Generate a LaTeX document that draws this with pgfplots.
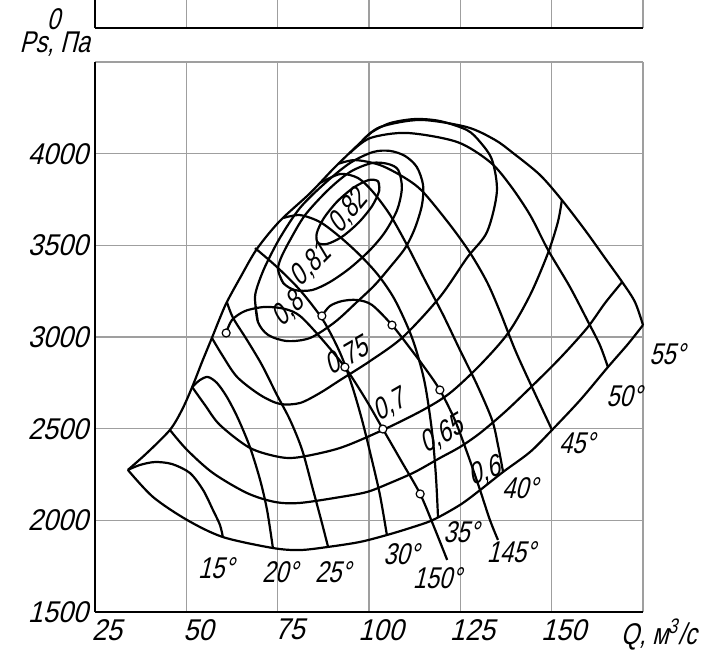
\documentclass[border=0pt]{standalone}
\usepackage{fontspec}
\setmainfont{Liberation Sans}[FakeSlant=0.25,FakeStretch=0.9]
\newfontfamily\narrowfont{Liberation Sans}[FakeSlant=0.25,FakeStretch=0.78]
\usepackage{pgfplots}
\pgfplotsset{compat=1.18}
\newcommand{\lbl}{\narrowfont\fontsize{15}{17}\selectfont}
\begin{document}
\begin{tikzpicture}[x=1pt,y=1pt]
\useasboundingbox (-47.5pt,-19pt) rectangle (308.5pt,306pt);
% top (cut) panel
\begin{axis}[at={(0pt,292pt)}, anchor=south west, width=274pt, height=14pt, scale only axis,
  xmin=25, xmax=175, ymin=0, ymax=1,
  axis lines=left, axis line style={-, line width=1.1pt, black},
  x axis line style={line width=1.4pt},
  xtick={25,50,...,175}, xticklabels={},
  ytick={0}, yticklabels={0},
  xmajorgrids, grid style={gray!75, line width=0.7pt},
  major tick length=0pt,
  /pgf/number format/assume math mode=true,
  yticklabel style={font=\lbl, xshift=-14pt, yshift=4.5pt},
]
\addplot[draw=none] coordinates {(25,0)};
\end{axis}
% main panel
\begin{axis}[at={(0pt,0pt)}, anchor=south west, width=274pt, height=275pt, scale only axis,
  xmin=25, xmax=175, ymin=1500, ymax=4500,
  axis lines=left, axis line style={-, line width=1.1pt, black},
  xtick={25,50,...,175}, xticklabels={25,50,75,100,125,150,},
  ytick={1500,2000,...,4500}, yticklabels={1500,2000,2500,3000,3500,4000,},
  grid=major, grid style={gray!75, line width=0.7pt},
  major tick length=0pt,
  /pgf/number format/assume math mode=true,
  tick label style={font=\fontsize{15}{17}\selectfont},
  xticklabel style={xshift=6pt},
  clip=false,
]
% envelope eta = 0.6
\addplot[black, line width=1.1pt, smooth] coordinates {(34.0,2275) (40.9,2127) (50.2,2002) (60.0,1909) (73.7,1849) (81.1,1838) (88.8,1855) (97.5,1882) (104.9,1920) (111.2,1958) (117.5,2002) (124.9,2084) (130.4,2165) (136.7,2264) (144.1,2373) (150.1,2493) (157.8,2656) (165.4,2836) (170.9,2962) (175.0,3065)};
% stall line
\addplot[black, line width=1.1pt, smooth] coordinates {(34.0,2275) (39.2,2367) (45.5,2493) (48.8,2602) (51.6,2727) (54.3,2864) (57.0,2995) (59.2,3104) (61.1,3191) (64.7,3322) (69.3,3480) (75.6,3633) (83.9,3785) (90.7,3927) (98.1,4069)};
% blade angle curves
\addplot[black, line width=1.1pt, smooth] coordinates {(34.0,2275) (37.3,2302) (41.4,2318) (46.1,2307) (51.0,2258) (54.6,2165) (57.3,2056) (59.2,1975) (60.0,1909)}; % 15
\addplot[black, line width=1.1pt, smooth] coordinates {(51.6,2727) (53.7,2765) (55.9,2782) (58.4,2749) (61.1,2673) (64.1,2558) (67.4,2400) (70.2,2220) (72.1,2056) (73.7,1849)}; % 20
\addplot[black, line width=1.1pt, smooth] coordinates {(61.1,3191) (62.8,3104) (66.6,2984) (70.7,2847) (74.8,2684) (78.4,2547) (81.7,2384) (84.7,2165) (86.9,2002) (88.8,1855)}; % 25
\addplot[black, line width=1.1pt, smooth] coordinates {(68.8,3485) (74.8,3382) (81.1,3256) (87.4,3093) (92.1,2913) (95.3,2738) (98.1,2547) (100.8,2329) (103.0,2138) (104.9,1920)}; % 30
\addplot[black, line width=1.1pt, smooth] coordinates {(76.5,3649) (81.1,3665) (86.6,3627) (92.1,3545) (97.5,3447) (102.5,3338) (107.1,3202) (111.8,2995) (115.1,2765) (117.2,2493) (118.3,2247) (118.9,2013)}; % 35
\addplot[black, line width=1.1pt, smooth] coordinates {(86.6,3840) (92.1,3889) (97.0,3867) (101.1,3791) (105.8,3665) (110.4,3502) (115.3,3311) (120.3,3120) (124.9,2929) (129.6,2738) (133.7,2547) (135.3,2411) (136.7,2264)}; % 40
\addplot[black, line width=1.1pt, smooth] coordinates {(91.5,3944) (96.2,3965) (103.0,3938) (109.9,3867) (114.8,3791) (122.2,3611) (127.7,3458) (132.3,3300) (135.9,3136) (140.0,2929) (144.6,2727) (150.1,2493)}; % 45
\addplot[black, line width=1.1pt, smooth] coordinates {(94.8,4004) (100.3,4085) (110.4,4113) (124.1,4064) (133.1,3955) (138.6,3829) (144.1,3665) (149.0,3475) (155.0,3273) (160.0,3082) (163.2,2956) (165.4,2836)}; % 50
\addplot[black, line width=1.1pt, smooth] coordinates {(98.1,4069) (103.0,4145) (114.0,4184) (126.8,4145) (134.5,4075) (139.4,4004) (146.8,3884) (152.8,3747) (159.1,3584) (164.6,3431) (169.3,3300) (172.8,3191) (175.0,3065)}; % 55
% efficiency contours
\addplot[black, line width=1.1pt, smooth] coordinates {(45.5,2493) (50.2,2384) (57.3,2258) (66.6,2149) (74.3,2100) (81.1,2095) (92.1,2127) (99.5,2155) (105.8,2204) (112.6,2264) (119.4,2340) (124.9,2400) (130.4,2476) (137.2,2591) (144.1,2722) (152.3,2885) (159.7,3049) (164.6,3185) (169.3,3300)}; % 0.65
\addplot[black, line width=1.1pt, smooth] coordinates {(51.6,2727) (55.1,2629) (59.2,2520) (67.4,2395) (75.6,2345) (81.1,2345) (92.1,2395) (103.8,2493) (114.8,2602) (122.2,2695) (130.4,2847) (138.1,3022) (144.1,3229) (149.0,3458) (151.7,3627) (152.8,3747)}; % 0.7
\addplot[black, line width=1.1pt, smooth] coordinates {(57.0,2995) (59.8,2902) (63.9,2782) (70.2,2684) (75.6,2635) (81.1,2640) (86.6,2695) (92.1,2765) (100.3,2869) (109.3,3000) (119.4,3218) (126.8,3431) (132.3,3573) (135.0,3791) (133.7,3965) (130.4,4064) (126.8,4129) (119.4,4178) (112.6,4189) (105.8,4167) (100.8,4118) (98.1,4069)}; % 0.75
\addplot[black, line width=1.1pt, smooth] coordinates {(68.8,3202) (69.6,3082) (72.4,3011) (77.6,2978) (83.9,2995) (90.7,3082) (96.7,3191) (101.6,3284) (105.8,3382) (109.9,3485) (112.6,3595) (114.5,3720) (114.8,3829) (113.1,3927) (109.9,3987) (105.8,4015) (101.1,4009) (94.8,3949) (88.0,3840) (81.1,3704) (75.6,3540) (71.5,3382) (69.3,3267) (68.8,3202) (69.6,3082)}; % 0.8
\addplot[black, line width=1.1pt, smooth] coordinates {(75.1,3365) (76.5,3295) (79.7,3256) (84.4,3256) (89.3,3300) (94.8,3376) (100.3,3475) (104.4,3573) (107.7,3693) (109.0,3813) (108.0,3911) (105.2,3944) (100.8,3949) (94.8,3900) (88.8,3802) (82.5,3665) (78.4,3529) (75.9,3431) (75.1,3365) (76.5,3295)}; % 0.81
\addplot[black, line width=1.1pt, smooth] coordinates {(102.5,3849) (102.8,3798) (100.9,3716) (97.2,3625) (92.7,3548) (88.6,3508) (86.0,3514) (85.7,3566) (87.6,3647) (91.3,3739) (95.8,3815) (99.9,3856) (102.5,3849) (102.8,3798)}; % 0.82
% 150 and 145 curves
\addplot[black, line width=1.1pt, smooth] coordinates {(60.9,3022) (62.5,3093) (66.1,3142) (71.5,3164) (77.0,3153) (81.1,3115) (86.6,3000) (93.4,2836) (98.9,2667) (103.8,2498) (109.0,2318) (114.0,2144) (117.8,1964) (121.4,1784)};
\addplot[black, line width=1.1pt, smooth] coordinates {(87.1,3115) (89.3,3169) (92.6,3196) (96.7,3202) (100.8,3175) (106.3,3065) (111.2,2940) (115.3,2831) (119.4,2711) (123.5,2547) (127.1,2356) (130.4,2165) (133.1,2002) (135.3,1893)};
\addplot[only marks, mark=*, mark size=2pt, mark options={fill=white, draw=black, line width=0.6pt}] coordinates {(60.9,3022) (93.4,2836) (103.8,2498) (114.0,2144) (87.1,3115) (106.3,3065) (119.4,2711)};
% labels
\begin{scope}[every node/.style={font=\lbl, inner sep=0.3pt}]
\node[rotate=50] at (axis cs:94.3,3682) {0,82};
\node[rotate=45] at (axis cs:84.1,3393) {0,81};
\node[rotate=45] at (axis cs:77.8,3147) {0,8};
\node[rotate=30] at (axis cs:94.0,2891) {0,75};
\node[rotate=30] at (axis cs:105.5,2624) {0,7};
\node[rotate=30] at (axis cs:120.0,2465) {0,65};
\node[rotate=20] at (axis cs:131.7,2264) {0,6};
\node at (axis cs:58.1,1740) {15°};
\node at (axis cs:75.6,1718) {20°};
\node at (axis cs:90.1,1718) {25°};
\node at (axis cs:108.8,1816) {30°};
\node at (axis cs:125.2,1936) {35°};
\node at (axis cs:141.3,2176) {40°};
\node at (axis cs:156.9,2422) {45°};
\node at (axis cs:169.8,2678) {50°};
\node at (axis cs:181.6,2907) {55°};
\node at (axis cs:118.6,1685) {150°};
\node at (axis cs:138.9,1827) {145°};
\node at (axis cs:14.0,4598) {Ps, Па};
\end{scope}
\node[font=\lbl, anchor=north] at (axis cs:179.3,1500) {Q, м\textsuperscript{3}/с};
\end{axis}
\end{tikzpicture}
\end{document}
